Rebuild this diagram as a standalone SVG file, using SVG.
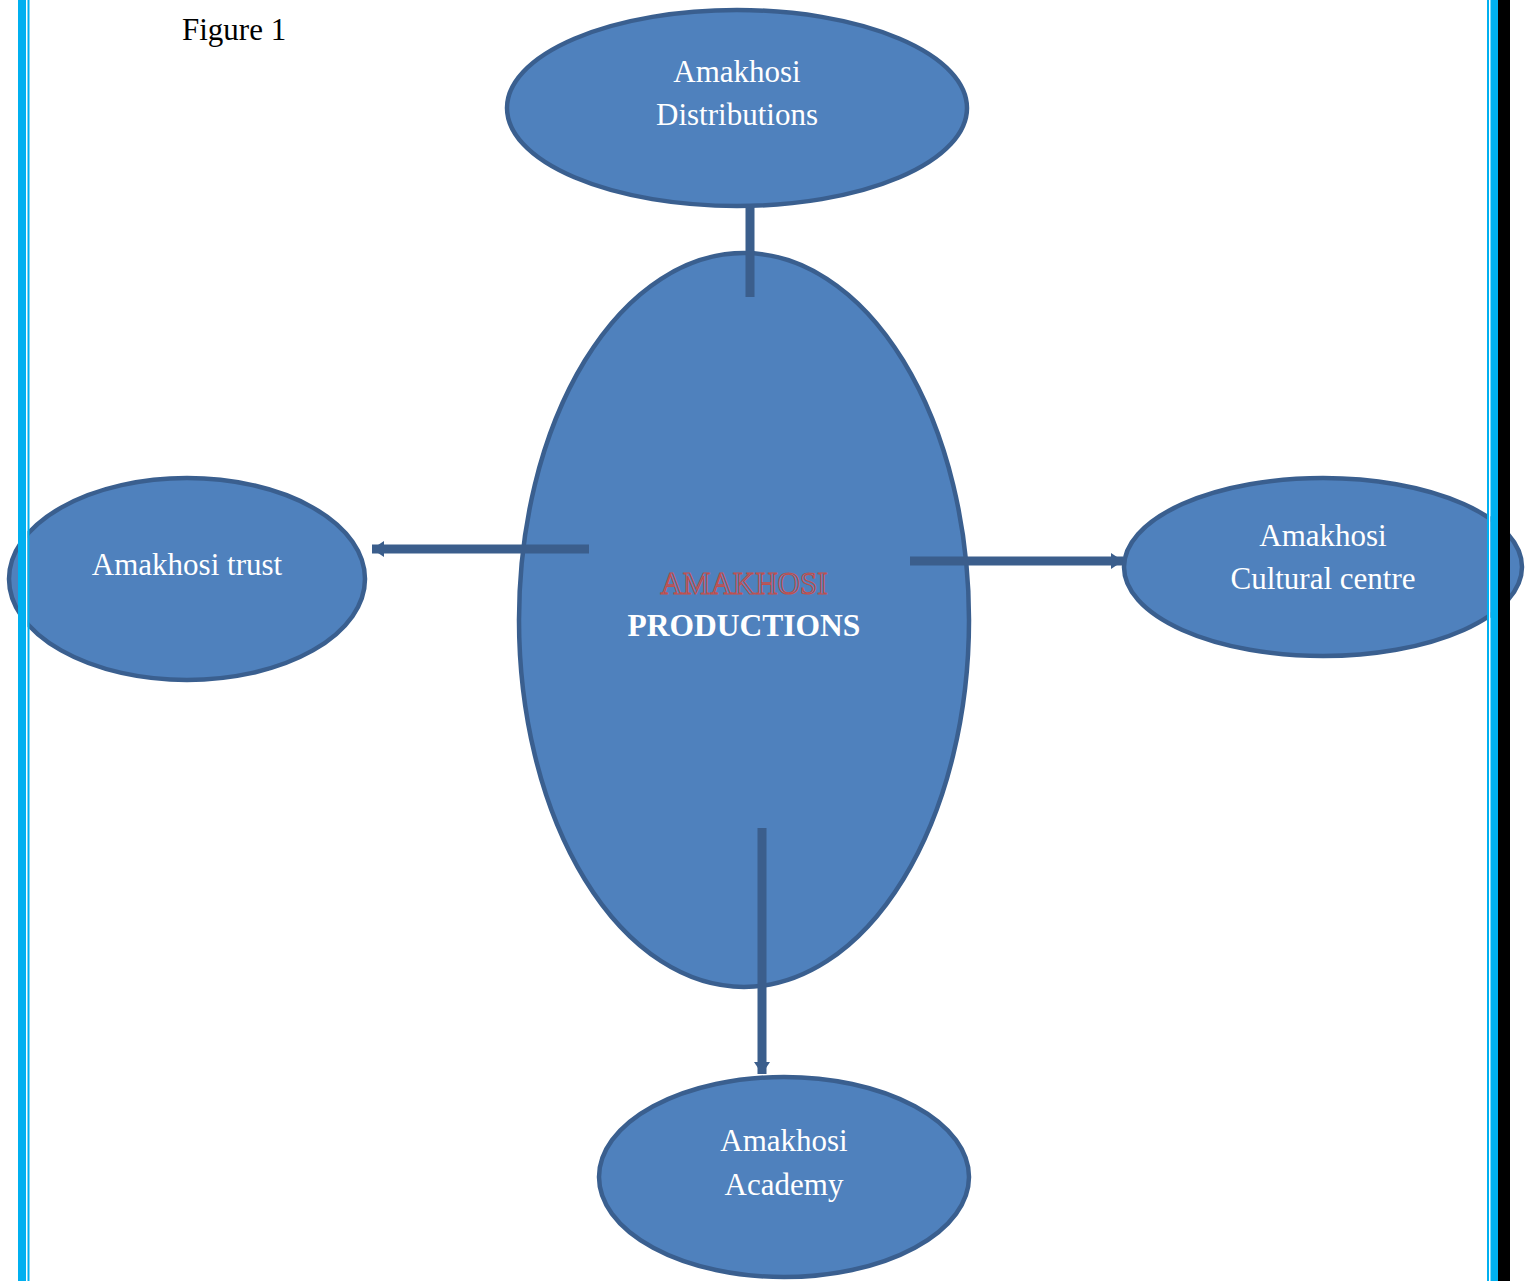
<svg xmlns="http://www.w3.org/2000/svg" width="1526" height="1281" viewBox="0 0 1526 1281">
<style>
.node ellipse{fill:#4F81BD;stroke:#3A5F8F;stroke-width:4.5}
.lbl{font-family:"Liberation Serif","Times New Roman",serif;font-size:31px;fill:#FFFFFF;text-anchor:middle}
.conn{stroke:#3B5E8C;stroke-width:9;fill:none}
</style>
<defs>
<marker id="arr" markerUnits="userSpaceOnUse" markerWidth="12" markerHeight="20" refX="12" refY="10" orient="auto" overflow="visible">
<path d="M0,2 L12,10 L0,18 Z" fill="#3B5E8C"/>
</marker>
</defs>
<rect width="1526" height="1281" fill="#FFFFFF"/>
<text x="182" y="40" font-family="Liberation Serif, serif" font-size="31" fill="#000">Figure 1</text>
<g id="node-distributions" class="node">
<ellipse cx="737" cy="108" rx="230" ry="98"/>
<text class="lbl" x="737" y="82">Amakhosi</text>
<text class="lbl" x="737" y="125">Distributions</text>
</g>
<g id="node-productions" class="node">
<ellipse cx="744" cy="620" rx="225" ry="367"/>
<text x="744" y="594" font-family="Liberation Serif, serif" font-size="31" text-anchor="middle" fill="none" stroke="#C0504D" stroke-width="1.2">AMAKHOSI</text>
<text x="744" y="636" font-family="Liberation Serif, serif" font-size="31.5" font-weight="bold" text-anchor="middle" fill="#FFFFFF">PRODUCTIONS</text>
</g>
<g id="node-trust" class="node">
<ellipse cx="187" cy="579" rx="178" ry="101"/>
<text class="lbl" x="187" y="575">Amakhosi trust</text>
</g>
<g id="node-cultural" class="node">
<ellipse cx="1323" cy="567" rx="199" ry="89"/>
<text class="lbl" x="1323" y="546">Amakhosi</text>
<text class="lbl" x="1323" y="589">Cultural centre</text>
</g>
<g id="node-academy" class="node">
<ellipse cx="784" cy="1177" rx="185" ry="100"/>
<text class="lbl" x="784" y="1151">Amakhosi</text>
<text class="lbl" x="784" y="1195">Academy</text>
</g>
<g id="connectors">
<line class="conn" x1="750" y1="207" x2="750" y2="297" stroke-width="10"/>
<line class="conn" x1="589" y1="549" x2="372" y2="549" marker-end="url(#arr)"/>
<line class="conn" x1="910" y1="561" x2="1123" y2="561" marker-end="url(#arr)"/>
<line class="conn" x1="762" y1="828" x2="762" y2="1074" stroke-width="10" marker-end="url(#arr)"/>
</g>
<g id="page-border">
<rect x="18" y="0" width="8" height="1281" fill="#00B0F0"/>
<rect x="26" y="0" width="1.5" height="1281" fill="#FFFFFF"/>
<rect x="27.5" y="0" width="2" height="1281" fill="#00B0F0"/>
<rect x="1487" y="0" width="2" height="1281" fill="#00B0F0"/>
<rect x="1489" y="0" width="1.5" height="1281" fill="#FFFFFF"/>
<rect x="1490.5" y="0" width="7.5" height="1281" fill="#00B0F0"/>
<rect x="1498" y="0" width="12" height="1281" fill="#000000"/>
</g>
</svg>
